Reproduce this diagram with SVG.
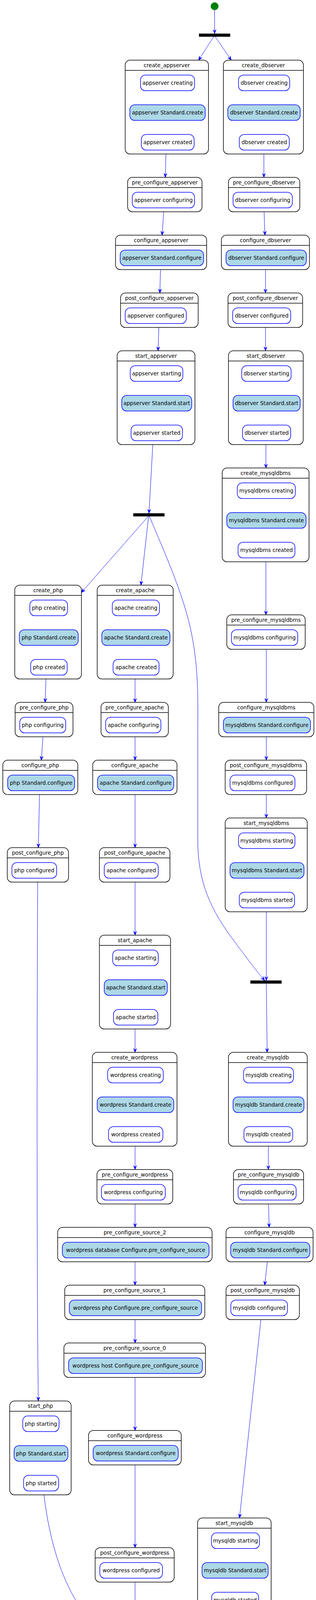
<svg xmlns="http://www.w3.org/2000/svg" width="809" height="4579" viewBox="0 0 809 4579">
<style>
.c{fill:#FFFFFF;stroke:#000000;stroke-width:1.5}
.h{stroke:#000000;stroke-width:1.5}
.s{fill:#FFFFFF;stroke:#0000FF;stroke-width:1.5}
.a{fill:#ADD8E6;stroke:#0000FF;stroke-width:1.5}
.t{font-family:"DejaVu Sans","Liberation Sans",sans-serif;font-size:13.6px;fill:#000000;text-anchor:middle}
.e{fill:none;stroke:#0000FF;stroke-width:1;marker-end:url(#ah)}
.f{fill:#000000}
</style>
<defs>
<marker id="ah" viewBox="-11 -5 12 10" refX="0" refY="0" markerWidth="12" markerHeight="10" markerUnits="userSpaceOnUse" orient="auto">
<path d="M0,0 L-10,-4 L-6,0 L-10,4 Z" fill="#0000FF" stroke="#0000FF" stroke-width="1"/>
</marker>
</defs>
<rect width="809" height="4579" fill="#FFFFFF"/>

<g id="connectors">
<path class="e" d="M549.4,26 L549.4,86"/>
<path class="e" d="M547.1,94 L508.4,154"/>
<path class="e" d="M551.2,94 L592,154"/>
<path class="e" d="M429,232.3 L429,268.3"/>
<path class="e" d="M429,308.3 L429,344.3"/>
<path class="e" d="M676.2,232.3 L676.2,268.3"/>
<path class="e" d="M676.2,308.3 L676.2,344.3"/>
<path class="e" d="M424.8,394.3 L423.2,454"/>
<path class="e" d="M675.6,394.3 L675.6,454"/>
<path class="e" d="M419.1,542.3 L415,602"/>
<path class="e" d="M676.1,542.3 L678.2,602"/>
<path class="e" d="M410.8,690.3 L409.3,750"/>
<path class="e" d="M679.7,690.3 L679.7,750"/>
<path class="e" d="M406.7,838.3 L404.6,898"/>
<path class="e" d="M679.7,838.3 L679.7,898"/>
<path class="e" d="M401.2,976.3 L401.2,1012.3"/>
<path class="e" d="M401.2,1052.3 L401.2,1088.3"/>
<path class="e" d="M682.3,976.3 L682.3,1012.3"/>
<path class="e" d="M682.3,1052.3 L682.3,1088.3"/>
<path class="e" d="M391.2,1138.3 L381.4,1314"/>
<path class="e" d="M680.8,1138.3 L680.8,1198"/>
<path class="e" d="M682,1276.3 L682,1312.3"/>
<path class="e" d="M682,1352.3 L682,1388.3"/>
<path class="e" d="M680.8,1438.3 L680.8,1574"/>
<path class="e" d="M379.4,1322 L208.5,1516.7"/>
<path class="e" d="M380.4,1322 L360.8,1498"/>
<path class="e" d="M382.5,1322 C415,1400 470,1520 490,1620 S506.3,1800 506.3,1900 L506.3,2150 C506.3,2260 540,2330 600,2410 S660,2490 677.7,2510"/>
<path class="e" d="M125,1576.3 L125,1612.3"/>
<path class="e" d="M125,1652.3 L125,1688.3"/>
<path class="e" d="M348,1576.3 L348,1612.3"/>
<path class="e" d="M348,1652.3 L348,1688.3"/>
<path class="e" d="M117.7,1738.3 L115.6,1798"/>
<path class="e" d="M345.8,1738.3 L345.8,1798"/>
<path class="e" d="M681.8,1662.3 L681.8,1798"/>
<path class="e" d="M109.9,1886.3 L105.8,1946"/>
<path class="e" d="M345.8,1886.3 L345.8,1946"/>
<path class="e" d="M681.8,1886.3 L681.8,1946"/>
<path class="e" d="M101.2,2034.3 L98.1,2170"/>
<path class="e" d="M345.8,2034.3 L345.8,2170"/>
<path class="e" d="M681.8,2034.3 L681.8,2094"/>
<path class="e" d="M683.5,2172.3 L683.5,2208.3"/>
<path class="e" d="M683.5,2248.3 L683.5,2284.3"/>
<path class="e" d="M96.5,2258.3 C94.5,2600 94,3300 98.1,3586.5"/>
<path class="e" d="M345.8,2258.3 L345.8,2394"/>
<path class="e" d="M681.8,2334.3 L681.8,2510"/>
<path class="e" d="M347.4,2472.3 L347.4,2508.3"/>
<path class="e" d="M347.4,2548.3 L347.4,2584.3"/>
<path class="e" d="M681.8,2518 L683.9,2694"/>
<path class="e" d="M345.8,2634.3 L345.8,2694"/>
<path class="e" d="M347.2,2772.3 L347.2,2808.3"/>
<path class="e" d="M347.2,2848.3 L347.2,2884.3"/>
<path class="e" d="M687.3,2772.3 L687.3,2808.3"/>
<path class="e" d="M687.3,2848.3 L687.3,2884.3"/>
<path class="e" d="M345.8,2934.3 L345.8,2994"/>
<path class="e" d="M687,2934.3 L687,2994"/>
<path class="e" d="M345.8,3082.3 L345.8,3142"/>
<path class="e" d="M687.5,3082.3 L689,3142"/>
<path class="e" d="M345.8,3230.3 L345.8,3290"/>
<path class="e" d="M684.4,3230.3 L677.7,3290"/>
<path class="e" d="M345.8,3378.3 L345.8,3438"/>
<path class="e" d="M667.9,3378.3 L613.2,3886"/>
<path class="e" d="M345.8,3526.3 L345.8,3662"/>
<path class="e" d="M105,3664.8 L105,3700.8"/>
<path class="e" d="M105,3740.8 L105,3776.8"/>
<path class="e" d="M345.8,3750.3 L345.8,3962"/>
<path class="e" d="M602.5,3964.3 L602.5,4000.3"/>
<path class="e" d="M602.5,4040.3 L602.5,4076.3"/>
<path class="e" d="M112.5,3826.8 C125,3930 150,4020 190,4090 C225,4150 280,4172 332.9,4186"/>
<path class="e" d="M345.8,4050.3 L345.8,4186"/>
<path class="e" d="M505.8,4095 C470,4140 400,4165 353.5,4186"/>
<path class="e" d="M345.8,4194 L345.8,4254"/>
<path class="e" d="M347.4,4332.3 L347.4,4368.3"/>
<path class="e" d="M347.4,4408.3 L347.4,4444.3"/>
<path class="e" d="M345.8,4494.3 L345.8,4553.5"/>
</g>

<g id="start"><circle cx="549.4" cy="16" r="10" fill="#008000"/></g>
<g id="fork1"><rect class="f" x="509.4" y="86" width="80" height="8"/></g>
<g id="fork2"><rect class="f" x="341.2" y="1314" width="80" height="8"/></g>
<g id="fork3"><rect class="f" x="641" y="2510" width="80" height="8"/></g>
<g id="fork4"><rect class="f" x="305" y="4186" width="80" height="8"/></g>
<g id="end"><circle cx="345.8" cy="4564" r="10.5" fill="#FFFFFF" stroke="#000000" stroke-width="1"/><circle cx="345.8" cy="4564" r="6" fill="#000000"/></g>

<g id="create_appserver">
<rect class="c" x="320.5" y="154" width="213.2" height="240.3" rx="12.5"/>
<line class="h" x1="320.5" y1="180.3" x2="533.7" y2="180.3"/>
<text class="t" x="427.1" y="171.7">create_appserver</text>
<rect class="s" x="359.7" y="192.3" width="138.4" height="40" rx="12.5"/>
<text class="t" x="428.9" y="217.3">appserver creating</text>
<rect class="a" x="332.4" y="268.3" width="193" height="40" rx="12.5"/>
<text class="t" x="428.9" y="293.3">appserver Standard.create</text>
<rect class="s" x="361.8" y="344.3" width="135.2" height="40" rx="12.5"/>
<text class="t" x="429.4" y="369.3">appserver created</text>
</g>

<g id="create_dbserver">
<rect class="c" x="571.9" y="154" width="204.9" height="240.3" rx="12.5"/>
<line class="h" x1="571.9" y1="180.3" x2="776.8" y2="180.3"/>
<text class="t" x="674.3" y="171.7">create_dbserver</text>
<rect class="s" x="610.6" y="192.3" width="131.1" height="40" rx="12.5"/>
<text class="t" x="676.2" y="217.3">dbserver creating</text>
<rect class="a" x="583.2" y="268.3" width="185.3" height="40" rx="12.5"/>
<text class="t" x="675.9" y="293.3">dbserver Standard.create</text>
<rect class="s" x="612.6" y="344.3" width="128" height="40" rx="12.5"/>
<text class="t" x="676.6" y="369.3">dbserver created</text>
</g>

<g id="pre_configure_appserver">
<rect class="c" x="326.7" y="454" width="190.5" height="88.3" rx="12.5"/>
<line class="h" x1="326.7" y1="480.3" x2="517.2" y2="480.3"/>
<text class="t" x="422" y="471.7">pre_configure_appserver</text>
<rect class="s" x="338.6" y="492.3" width="159.5" height="40" rx="12.5"/>
<text class="t" x="418.4" y="517.3">appserver configuring</text>
</g>

<g id="pre_configure_dbserver">
<rect class="c" x="584.8" y="454" width="182.7" height="88.3" rx="12.5"/>
<line class="h" x1="584.8" y1="480.3" x2="767.5" y2="480.3"/>
<text class="t" x="676.2" y="471.7">pre_configure_dbserver</text>
<rect class="s" x="596.6" y="492.3" width="151.8" height="40" rx="12.5"/>
<text class="t" x="672.5" y="517.3">dbserver configuring</text>
</g>

<g id="configure_appserver">
<rect class="c" x="295.7" y="602" width="233.3" height="88.3" rx="12.5"/>
<line class="h" x1="295.7" y1="628.3" x2="529" y2="628.3"/>
<text class="t" x="412.4" y="619.7">configure_appserver</text>
<rect class="a" x="307.6" y="640.3" width="213.7" height="40" rx="12.5"/>
<text class="t" x="414.5" y="665.3">appserver Standard.configure</text>
</g>

<g id="configure_dbserver">
<rect class="c" x="566.7" y="602" width="225.6" height="88.3" rx="12.5"/>
<line class="h" x1="566.7" y1="628.3" x2="792.3" y2="628.3"/>
<text class="t" x="679.5" y="619.7">configure_dbserver</text>
<rect class="a" x="578.6" y="640.3" width="205.9" height="40" rx="12.5"/>
<text class="t" x="681.6" y="665.3">dbserver Standard.configure</text>
</g>

<g id="post_configure_appserver">
<rect class="c" x="308.6" y="750" width="198.8" height="88.3" rx="12.5"/>
<line class="h" x1="308.6" y1="776.3" x2="507.4" y2="776.3"/>
<text class="t" x="408" y="767.7">post_configure_appserver</text>
<rect class="s" x="320.5" y="788.3" width="156.4" height="40" rx="12.5"/>
<text class="t" x="398.7" y="813.3">appserver configured</text>
</g>

<g id="post_configure_dbserver">
<rect class="c" x="583.7" y="750" width="191" height="88.3" rx="12.5"/>
<line class="h" x1="583.7" y1="776.3" x2="774.7" y2="776.3"/>
<text class="t" x="679.2" y="767.7">post_configure_dbserver</text>
<rect class="s" x="595.6" y="788.3" width="148.7" height="40" rx="12.5"/>
<text class="t" x="670" y="813.3">dbserver configured</text>
</g>

<g id="start_appserver">
<rect class="c" x="299.9" y="898" width="199.2" height="240.3" rx="12.5"/>
<line class="h" x1="299.9" y1="924.3" x2="499.1" y2="924.3"/>
<text class="t" x="399.5" y="915.7">start_appserver</text>
<rect class="s" x="333.4" y="936.3" width="134.7" height="40" rx="12.5"/>
<text class="t" x="400.8" y="961.3">appserver starting</text>
<rect class="a" x="311.7" y="1012.3" width="179.1" height="40" rx="12.5"/>
<text class="t" x="401.3" y="1037.3">appserver Standard.start</text>
<rect class="s" x="335.5" y="1088.3" width="131.6" height="40" rx="12.5"/>
<text class="t" x="401.3" y="1113.3">appserver started</text>
</g>

<g id="start_dbserver">
<rect class="c" x="584.8" y="898" width="191.5" height="240.3" rx="12.5"/>
<line class="h" x1="584.8" y1="924.3" x2="776.3" y2="924.3"/>
<text class="t" x="680.6" y="915.7">start_dbserver</text>
<rect class="s" x="618.8" y="936.3" width="126.5" height="40" rx="12.5"/>
<text class="t" x="682.1" y="961.3">dbserver starting</text>
<rect class="a" x="596.6" y="1012.3" width="171.9" height="40" rx="12.5"/>
<text class="t" x="682.6" y="1037.3">dbserver Standard.start</text>
<rect class="s" x="620.9" y="1088.3" width="123.4" height="40" rx="12.5"/>
<text class="t" x="682.6" y="1113.3">dbserver started</text>
</g>

<g id="create_mysqldbms">
<rect class="c" x="568.8" y="1198" width="222.4" height="240.3" rx="12.5"/>
<line class="h" x1="568.8" y1="1224.3" x2="791.2" y2="1224.3"/>
<text class="t" x="680" y="1215.7">create_mysqldbms</text>
<rect class="s" x="607.5" y="1236.3" width="148.6" height="40" rx="12.5"/>
<text class="t" x="681.8" y="1261.3">mysqldbms creating</text>
<rect class="a" x="580.6" y="1312.3" width="202.9" height="40" rx="12.5"/>
<text class="t" x="682.1" y="1337.3">mysqldbms Standard.create</text>
<rect class="s" x="609.5" y="1388.3" width="145.6" height="40" rx="12.5"/>
<text class="t" x="682.3" y="1413.3">mysqldbms created</text>
</g>

<g id="create_php">
<rect class="c" x="37.7" y="1498" width="170.8" height="240.3" rx="12.5"/>
<line class="h" x1="37.7" y1="1524.3" x2="208.5" y2="1524.3"/>
<text class="t" x="123.1" y="1515.7">create_php</text>
<rect class="s" x="76.4" y="1536.3" width="96.5" height="40" rx="12.5"/>
<text class="t" x="124.7" y="1561.3">php creating</text>
<rect class="a" x="49.5" y="1612.3" width="150.8" height="40" rx="12.5"/>
<text class="t" x="124.9" y="1637.3">php Standard.create</text>
<rect class="s" x="78.5" y="1688.3" width="93.4" height="40" rx="12.5"/>
<text class="t" x="125.2" y="1713.3">php created</text>
</g>

<g id="create_apache">
<rect class="c" x="248.8" y="1498" width="194.6" height="240.3" rx="12.5"/>
<line class="h" x1="248.8" y1="1524.3" x2="443.4" y2="1524.3"/>
<text class="t" x="346.1" y="1515.7">create_apache</text>
<rect class="s" x="287.5" y="1536.3" width="120.8" height="40" rx="12.5"/>
<text class="t" x="347.9" y="1561.3">apache creating</text>
<rect class="a" x="260.6" y="1612.3" width="174.5" height="40" rx="12.5"/>
<text class="t" x="347.9" y="1637.3">apache Standard.create</text>
<rect class="s" x="289.5" y="1688.3" width="117.7" height="40" rx="12.5"/>
<text class="t" x="348.4" y="1713.3">apache created</text>
</g>

<g id="pre_configure_mysqldbms">
<rect class="c" x="580.6" y="1574" width="200.8" height="88.3" rx="12.5"/>
<line class="h" x1="580.6" y1="1600.3" x2="781.4" y2="1600.3"/>
<text class="t" x="681" y="1591.7">pre_configure_mysqldbms</text>
<rect class="s" x="592.5" y="1612.3" width="169.8" height="40" rx="12.5"/>
<text class="t" x="677.4" y="1637.3">mysqldbms configuring</text>
</g>

<g id="pre_configure_php">
<rect class="c" x="38.7" y="1798" width="148.1" height="88.3" rx="12.5"/>
<line class="h" x1="38.7" y1="1824.3" x2="186.8" y2="1824.3"/>
<text class="t" x="112.8" y="1815.7">pre_configure_php</text>
<rect class="s" x="50.6" y="1836.3" width="117.7" height="40" rx="12.5"/>
<text class="t" x="109.5" y="1861.3">php configuring</text>
</g>

<g id="pre_configure_apache">
<rect class="c" x="258.6" y="1798" width="172.4" height="88.3" rx="12.5"/>
<line class="h" x1="258.6" y1="1824.3" x2="431" y2="1824.3"/>
<text class="t" x="344.8" y="1815.7">pre_configure_apache</text>
<rect class="s" x="270.5" y="1836.3" width="141.4" height="40" rx="12.5"/>
<text class="t" x="341.2" y="1861.3">apache configuring</text>
</g>

<g id="configure_mysqldbms">
<rect class="c" x="560" y="1798" width="243.6" height="88.3" rx="12.5"/>
<line class="h" x1="560" y1="1824.3" x2="803.6" y2="1824.3"/>
<text class="t" x="681.8" y="1815.7">configure_mysqldbms</text>
<rect class="a" x="571.9" y="1836.3" width="222.9" height="40" rx="12.5"/>
<text class="t" x="683.4" y="1861.3">mysqldbms Standard.configure</text>
</g>

<g id="configure_php">
<rect class="c" x="7.2" y="1946" width="192" height="88.3" rx="12.5"/>
<line class="h" x1="7.2" y1="1972.3" x2="199.2" y2="1972.3"/>
<text class="t" x="103.2" y="1963.7">configure_php</text>
<rect class="a" x="19.6" y="1984.3" width="171.4" height="40" rx="12.5"/>
<text class="t" x="105.3" y="2009.3">php Standard.configure</text>
</g>

<g id="configure_apache">
<rect class="c" x="237.4" y="1946" width="215.8" height="88.3" rx="12.5"/>
<line class="h" x1="237.4" y1="1972.3" x2="453.2" y2="1972.3"/>
<text class="t" x="345.3" y="1963.7">configure_apache</text>
<rect class="a" x="249.8" y="1984.3" width="195.1" height="40" rx="12.5"/>
<text class="t" x="347.4" y="2009.3">apache Standard.configure</text>
</g>

<g id="post_configure_mysqldbms">
<rect class="c" x="576.5" y="1946" width="208.5" height="88.3" rx="12.5"/>
<line class="h" x1="576.5" y1="1972.3" x2="785" y2="1972.3"/>
<text class="t" x="680.8" y="1963.7">post_configure_mysqldbms</text>
<rect class="s" x="588.9" y="1984.3" width="166.2" height="40" rx="12.5"/>
<text class="t" x="672" y="2009.3">mysqldbms configured</text>
</g>

<g id="post_configure_php">
<rect class="c" x="18.6" y="2170" width="156.9" height="88.3" rx="12.5"/>
<line class="h" x1="18.6" y1="2196.3" x2="175.5" y2="2196.3"/>
<text class="t" x="97" y="2187.7">post_configure_php</text>
<rect class="s" x="30.5" y="2208.3" width="114.5" height="40" rx="12.5"/>
<text class="t" x="87.8" y="2233.3">php configured</text>
</g>

<g id="post_configure_apache">
<rect class="c" x="254.5" y="2170" width="180.6" height="88.3" rx="12.5"/>
<line class="h" x1="254.5" y1="2196.3" x2="435.1" y2="2196.3"/>
<text class="t" x="344.8" y="2187.7">post_configure_apache</text>
<rect class="s" x="266.8" y="2208.3" width="138.4" height="40" rx="12.5"/>
<text class="t" x="336" y="2233.3">apache configured</text>
</g>

<g id="start_mysqldbms">
<rect class="c" x="576.5" y="2094" width="210.1" height="240.3" rx="12.5"/>
<line class="h" x1="576.5" y1="2120.3" x2="786.6" y2="2120.3"/>
<text class="t" x="681.6" y="2111.7">start_mysqldbms</text>
<rect class="s" x="610.6" y="2132.3" width="144.5" height="40" rx="12.5"/>
<text class="t" x="682.9" y="2157.3">mysqldbms starting</text>
<rect class="a" x="588.9" y="2208.3" width="189.4" height="40" rx="12.5"/>
<text class="t" x="683.6" y="2233.3">mysqldbms Standard.start</text>
<rect class="s" x="612.6" y="2284.3" width="141.5" height="40" rx="12.5"/>
<text class="t" x="683.4" y="2309.3">mysqldbms started</text>
</g>

<g id="start_apache">
<rect class="c" x="254.5" y="2394" width="182.1" height="240.3" rx="12.5"/>
<line class="h" x1="254.5" y1="2420.3" x2="436.6" y2="2420.3"/>
<text class="t" x="345.6" y="2411.7">start_apache</text>
<rect class="s" x="288.5" y="2432.3" width="116.7" height="40" rx="12.5"/>
<text class="t" x="346.9" y="2457.3">apache starting</text>
<rect class="a" x="266.8" y="2508.3" width="161.6" height="40" rx="12.5"/>
<text class="t" x="347.6" y="2533.3">apache Standard.start</text>
<rect class="s" x="290.6" y="2584.3" width="113.5" height="40" rx="12.5"/>
<text class="t" x="347.4" y="2609.3">apache started</text>
</g>

<g id="create_wordpress">
<rect class="c" x="236.4" y="2694" width="216.8" height="240.3" rx="12.5"/>
<line class="h" x1="236.4" y1="2720.3" x2="453.2" y2="2720.3"/>
<text class="t" x="344.8" y="2711.7">create_wordpress</text>
<rect class="s" x="275.6" y="2732.3" width="142.5" height="40" rx="12.5"/>
<text class="t" x="346.9" y="2757.3">wordpress creating</text>
<rect class="a" x="248.8" y="2808.3" width="196.1" height="40" rx="12.5"/>
<text class="t" x="346.9" y="2833.3">wordpress Standard.create</text>
<rect class="s" x="277.7" y="2884.3" width="139.3" height="40" rx="12.5"/>
<text class="t" x="347.4" y="2909.3">wordpress created</text>
</g>

<g id="create_mysqldb">
<rect class="c" x="584.8" y="2694" width="201.8" height="240.3" rx="12.5"/>
<line class="h" x1="584.8" y1="2720.3" x2="786.6" y2="2720.3"/>
<text class="t" x="685.7" y="2711.7">create_mysqldb</text>
<rect class="s" x="623.5" y="2732.3" width="128" height="40" rx="12.5"/>
<text class="t" x="687.5" y="2757.3">mysqldb creating</text>
<rect class="a" x="596.6" y="2808.3" width="181.7" height="40" rx="12.5"/>
<text class="t" x="687.5" y="2833.3">mysqldb Standard.create</text>
<rect class="s" x="624.5" y="2884.3" width="124.9" height="40" rx="12.5"/>
<text class="t" x="687" y="2909.3">mysqldb created</text>
</g>

<g id="pre_configure_wordpress">
<rect class="c" x="248.3" y="2994" width="194" height="88.3" rx="12.5"/>
<line class="h" x1="248.3" y1="3020.3" x2="442.3" y2="3020.3"/>
<text class="t" x="345.3" y="3011.7">pre_configure_wordpress</text>
<rect class="s" x="259.6" y="3032.3" width="163.6" height="40" rx="12.5"/>
<text class="t" x="341.4" y="3057.3">wordpress configuring</text>
</g>

<g id="pre_configure_mysqldb">
<rect class="c" x="597.7" y="2994" width="179.6" height="88.3" rx="12.5"/>
<line class="h" x1="597.7" y1="3020.3" x2="777.3" y2="3020.3"/>
<text class="t" x="687.5" y="3011.7">pre_configure_mysqldb</text>
<rect class="s" x="609.5" y="3032.3" width="148.7" height="40" rx="12.5"/>
<text class="t" x="683.9" y="3057.3">mysqldb configuring</text>
</g>

<g id="pre_configure_source_2">
<rect class="c" x="147.6" y="3142" width="395.4" height="88.3" rx="12.5"/>
<line class="h" x1="147.6" y1="3168.3" x2="543" y2="3168.3"/>
<text class="t" x="345.3" y="3159.7">pre_configure_source_2</text>
<rect class="a" x="159.5" y="3180.3" width="375.7" height="40" rx="12.5"/>
<text class="t" x="347.4" y="3205.3">wordpress database Configure.pre_configure_source</text>
</g>

<g id="configure_mysqldb">
<rect class="c" x="578.6" y="3142" width="222.9" height="88.3" rx="12.5"/>
<line class="h" x1="578.6" y1="3168.3" x2="801.5" y2="3168.3"/>
<text class="t" x="690" y="3159.7">configure_mysqldb</text>
<rect class="a" x="590.5" y="3180.3" width="202.8" height="40" rx="12.5"/>
<text class="t" x="691.9" y="3205.3">mysqldb Standard.configure</text>
</g>

<g id="pre_configure_source_1">
<rect class="c" x="165.7" y="3290" width="358.7" height="88.3" rx="12.5"/>
<line class="h" x1="165.7" y1="3316.3" x2="524.4" y2="3316.3"/>
<text class="t" x="345" y="3307.7">pre_configure_source_1</text>
<rect class="a" x="177.5" y="3328.3" width="338.6" height="40" rx="12.5"/>
<text class="t" x="346.8" y="3353.3">wordpress php Configure.pre_configure_source</text>
</g>

<g id="post_configure_mysqldb">
<rect class="c" x="578.6" y="3290" width="187.9" height="88.3" rx="12.5"/>
<line class="h" x1="578.6" y1="3316.3" x2="766.5" y2="3316.3"/>
<text class="t" x="672.5" y="3307.7">post_configure_mysqldb</text>
<rect class="s" x="591" y="3328.3" width="145" height="40" rx="12.5"/>
<text class="t" x="663.5" y="3353.3">mysqldb configured</text>
</g>

<g id="pre_configure_source_0">
<rect class="c" x="163.6" y="3438" width="362.3" height="88.3" rx="12.5"/>
<line class="h" x1="163.6" y1="3464.3" x2="525.9" y2="3464.3"/>
<text class="t" x="344.8" y="3455.7">pre_configure_source_0</text>
<rect class="a" x="175.5" y="3476.3" width="342.7" height="40" rx="12.5"/>
<text class="t" x="346.8" y="3501.3">wordpress host Configure.pre_configure_source</text>
</g>

<g id="start_php">
<rect class="c" x="24.8" y="3586.5" width="157.4" height="240.3" rx="12.5"/>
<line class="h" x1="24.8" y1="3612.8" x2="182.2" y2="3612.8"/>
<text class="t" x="103.5" y="3604.2">start_php</text>
<rect class="s" x="58.3" y="3624.8" width="92.9" height="40" rx="12.5"/>
<text class="t" x="104.8" y="3649.8">php starting</text>
<rect class="a" x="36.1" y="3700.8" width="137.8" height="40" rx="12.5"/>
<text class="t" x="105" y="3725.8">php Standard.start</text>
<rect class="s" x="60.4" y="3776.8" width="89.8" height="40" rx="12.5"/>
<text class="t" x="105.3" y="3801.8">php started</text>
</g>

<g id="configure_wordpress">
<rect class="c" x="226.6" y="3662" width="237.4" height="88.3" rx="12.5"/>
<line class="h" x1="226.6" y1="3688.3" x2="464" y2="3688.3"/>
<text class="t" x="345.3" y="3679.7">configure_wordpress</text>
<rect class="a" x="238.5" y="3700.3" width="217.8" height="40" rx="12.5"/>
<text class="t" x="347.4" y="3725.3">wordpress Standard.configure</text>
</g>

<g id="start_mysqldb">
<rect class="c" x="505.8" y="3886" width="188.4" height="240.3" rx="12.5"/>
<line class="h" x1="505.8" y1="3912.3" x2="694.2" y2="3912.3"/>
<text class="t" x="600" y="3903.7">start_mysqldb</text>
<rect class="s" x="541.4" y="3924.3" width="122.9" height="40" rx="12.5"/>
<text class="t" x="602.9" y="3949.3">mysqldb starting</text>
<rect class="a" x="517.2" y="4000.3" width="169.3" height="40" rx="12.5"/>
<text class="t" x="601.9" y="4025.3">mysqldb Standard.start</text>
<rect class="s" x="541.9" y="4076.3" width="120.3" height="40" rx="12.5"/>
<text class="t" x="602" y="4101.3">mysqldb started</text>
</g>

<g id="post_configure_wordpress">
<rect class="c" x="243.6" y="3962" width="202.3" height="88.3" rx="12.5"/>
<line class="h" x1="243.6" y1="3988.3" x2="445.9" y2="3988.3"/>
<text class="t" x="344.8" y="3979.7">post_configure_wordpress</text>
<rect class="s" x="255.5" y="4000.3" width="160.5" height="40" rx="12.5"/>
<text class="t" x="335.8" y="4025.3">wordpress configured</text>
</g>

<g id="start_wordpress">
<rect class="c" x="243.6" y="4254" width="203.9" height="240.3" rx="12.5"/>
<line class="h" x1="243.6" y1="4280.3" x2="447.5" y2="4280.3"/>
<text class="t" x="345.6" y="4271.7">start_wordpress</text>
<rect class="s" x="277.7" y="4292.3" width="138.3" height="40" rx="12.5"/>
<text class="t" x="346.9" y="4317.3">wordpress starting</text>
<rect class="a" x="255.5" y="4368.3" width="183.7" height="40" rx="12.5"/>
<text class="t" x="347.4" y="4393.3">wordpress Standard.start</text>
<rect class="s" x="279.7" y="4444.3" width="135.8" height="40" rx="12.5"/>
<text class="t" x="347.6" y="4469.3">wordpress started</text>
</g>
</svg>
